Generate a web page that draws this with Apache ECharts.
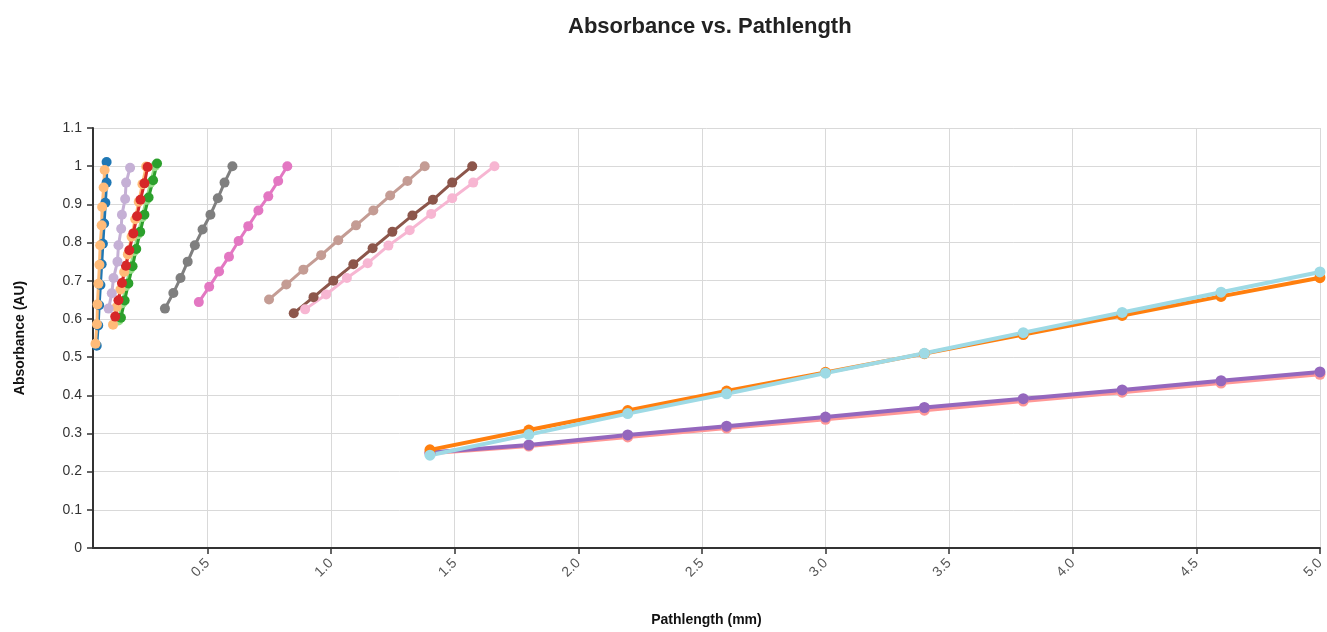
<!DOCTYPE html>
<html>
<head>
<meta charset="utf-8">
<script src="https://cdn.jsdelivr.net/npm/echarts@6/dist/echarts.min.js"></script>
<style>html,body{margin:0;padding:0;background:#fff;overflow:hidden;}#chart{width:1327px;height:632px;}</style>
</head>
<body>
<div id="chart"></div>
<script>
// ---- data (pathlength mm, absorbance AU) ----
const blueX = [0.052,0.058,0.062,0.067,0.072,0.077,0.082,0.087,0.092,0.092];
const blueY = [0.530,0.583,0.636,0.689,0.743,0.797,0.850,0.904,0.957,1.011];
const lightOrangeAX = [0.047,0.053,0.055,0.059,0.063,0.066,0.072,0.074,0.080,0.084];
const lightOrangeAY = [0.535,0.586,0.638,0.692,0.742,0.793,0.845,0.893,0.944,0.990];
const lightGreenX = [0.140,0.155,0.170,0.187,0.203,0.219,0.236,0.253,0.270,0.287];
const lightGreenY = [0.596,0.641,0.686,0.731,0.777,0.822,0.867,0.912,0.957,1.000];
const greenX = [0.150,0.165,0.180,0.197,0.212,0.228,0.245,0.262,0.280,0.296];
const greenY = [0.603,0.648,0.693,0.738,0.783,0.828,0.873,0.918,0.963,1.007];
const lightOrangeBX = [0.118,0.133,0.148,0.163,0.178,0.193,0.208,0.222,0.237,0.252];
const lightOrangeBY = [0.585,0.631,0.677,0.723,0.769,0.815,0.861,0.907,0.953,0.999];
const redX = [0.127,0.140,0.154,0.170,0.184,0.200,0.215,0.229,0.245,0.258];
const redY = [0.606,0.649,0.694,0.739,0.780,0.824,0.869,0.912,0.955,0.998];
const lightPurpleX = [0.100,0.113,0.120,0.136,0.140,0.151,0.154,0.167,0.171,0.187];
const lightPurpleY = [0.627,0.667,0.707,0.750,0.793,0.836,0.873,0.914,0.957,0.996];
const grayX = [0.328,0.362,0.391,0.420,0.449,0.480,0.512,0.542,0.569,0.601];
const grayY = [0.627,0.668,0.707,0.750,0.793,0.834,0.873,0.916,0.957,1.000];
const pinkX = [0.465,0.507,0.547,0.587,0.626,0.665,0.706,0.746,0.786,0.823];
const pinkY = [0.644,0.684,0.724,0.763,0.804,0.843,0.884,0.921,0.961,1.000];
const lightBrownX = [0.749,0.819,0.888,0.960,1.029,1.101,1.171,1.239,1.309,1.379];
const lightBrownY = [0.651,0.690,0.729,0.767,0.806,0.845,0.884,0.923,0.961,1.000];
const brownX = [0.849,0.929,1.009,1.090,1.168,1.248,1.329,1.412,1.490,1.571];
const brownY = [0.615,0.657,0.700,0.743,0.785,0.828,0.871,0.912,0.957,1.000];
const lightPinkX = [0.895,0.980,1.064,1.148,1.232,1.318,1.405,1.490,1.575,1.661];
const lightPinkY = [0.625,0.664,0.707,0.746,0.792,0.832,0.875,0.916,0.957,1.000];
const longX = [1.4,1.8,2.2,2.6,3.0,3.4,3.8,4.2,4.6,5.0];
const lightRedY = [0.248,0.267,0.291,0.314,0.337,0.361,0.385,0.408,0.432,0.455];
const purpleY = [0.250,0.270,0.296,0.319,0.343,0.368,0.391,0.414,0.438,0.461];
const orangeY = [0.257,0.309,0.360,0.411,0.460,0.509,0.559,0.609,0.659,0.708];
const lightCyanY = [0.243,0.297,0.352,0.404,0.458,0.510,0.564,0.617,0.670,0.723];

const zip = (xs, ys) => xs.map((x, i) => [x, ys[i]]);
const font = '"Liberation Sans", Arial, sans-serif';

function line(name, xs, ys, color, lw, size) {
  return {
    name: name, type: 'line', data: zip(xs, ys),
    symbol: 'circle', symbolSize: size || 10,
    lineStyle: { color: color, width: lw || 3 },
    itemStyle: { color: color },
    emphasis: { disabled: true }, animation: false, clip: false
  };
}

const chart = echarts.init(document.getElementById('chart'));
chart.setOption({
  backgroundColor: '#fff',
  animation: false,
  title: {
    text: 'Absorbance vs. Pathlength',
    left: 563, top: 11,
    textStyle: { fontFamily: font, fontSize: 22, fontWeight: 'bold', color: '#222' }
  },
  grid: { left: 93, right: 3, top: 128, bottom: 79, containLabel: false },
  xAxis: {
    type: 'value', min: 0.037, max: 5, splitNumber: 10,
    name: 'Pathlength (mm)', nameLocation: 'middle', nameGap: 65,
    nameTextStyle: { fontFamily: font, fontSize: 14, fontWeight: 'bold', color: '#111' },
    axisLine: { show: true, onZero: false, lineStyle: { color: '#333', width: 2 } },
    axisTick: { show: true, length: 6, lineStyle: { color: '#333', width: 1.5 } },
    axisLabel: {
      rotate: 45, showMinLabel: false, margin: 13,
      fontFamily: font, fontSize: 14, color: '#555',
      formatter: v => v < 0.1 ? '' : v.toFixed(1)
    },
    splitLine: { show: true, lineStyle: { color: '#d9d9d9', width: 1 } }
  },
  yAxis: {
    type: 'value', min: 0, max: 1.1, interval: 0.1,
    name: 'Absorbance (AU)', nameLocation: 'middle', nameGap: 66, nameRotate: 90,
    nameTextStyle: { fontFamily: font, fontSize: 14, fontWeight: 'bold', color: '#111' },
    axisLine: { show: true, lineStyle: { color: '#333', width: 2 } },
    axisTick: { show: true, length: 6, lineStyle: { color: '#333', width: 1.5 } },
    axisLabel: { fontFamily: font, fontSize: 14, color: '#333', margin: 11,
      formatter: v => String(Math.round(v * 10) / 10) },
    splitLine: { show: true, lineStyle: { color: '#d9d9d9', width: 1 } }
  },
  series: [
    line('s1', blueX, blueY, '#1f77b4'),
    line('s2', lightOrangeAX, lightOrangeAY, '#ffbb78'),
    line('s3', lightGreenX, lightGreenY, '#98df8a'),
    line('s4', greenX, greenY, '#2ca02c'),
    line('s5', lightOrangeBX, lightOrangeBY, '#ffbb78'),
    line('s6', redX, redY, '#d62728'),
    line('s7', lightPurpleX, lightPurpleY, '#c5b0d5'),
    line('s8', grayX, grayY, '#7f7f7f'),
    line('s9', pinkX, pinkY, '#e377c2'),
    line('s10', lightBrownX, lightBrownY, '#c49c94'),
    line('s11', brownX, brownY, '#8c564b'),
    line('s12', lightPinkX, lightPinkY, '#f7b6d2'),
    line('s13', longX, lightRedY, '#ff9896', 4, 11),
    line('s14', longX, purpleY, '#9467bd', 4, 11),
    line('s15', longX, orangeY, '#ff7f0e', 4, 11),
    line('s16', longX, lightCyanY, '#9edae5', 4, 11)
  ]
});
</script>
</body>
</html>
